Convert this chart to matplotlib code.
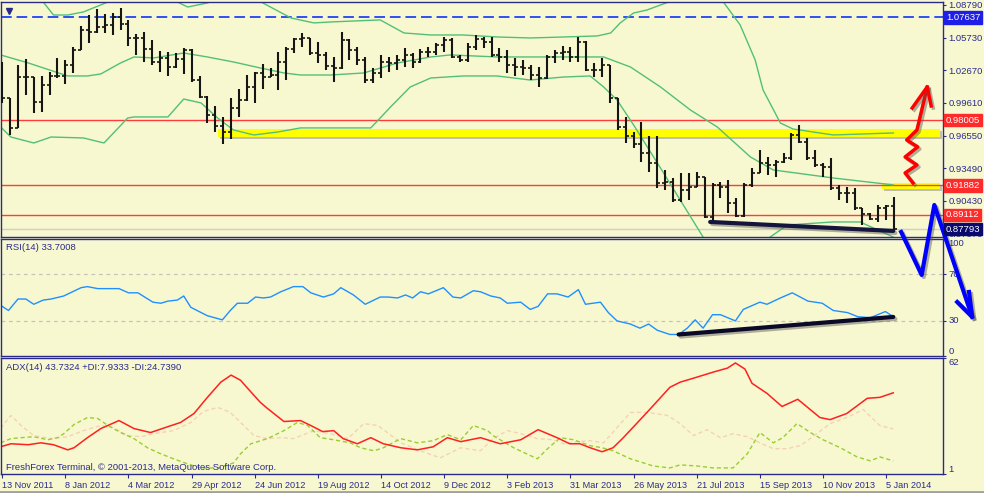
import numpy as np
import matplotlib.pyplot as plt
import matplotlib.patheffects as pe
from matplotlib.patches import Rectangle
from matplotlib.lines import Line2D

plt.rcParams['font.family'] = ['Liberation Sans', 'DejaVu Sans']

# ---- weekly bars, index 0 = week of 13 Nov 2011, last = 12 Jan 2014 ----
bar_open = [1.0150, 1.0008, 0.9727, 1.0204, 1.0204, 0.9970, 1.0130, 1.0214, 1.0214, 1.0317,
            1.0458, 1.0645, 1.0626, 1.0673, 1.0692, 1.0767, 1.0701, 1.0570, 1.0570, 1.0467,
            1.0345, 1.0383, 1.0298, 1.0373, 1.0458, 1.0176, 1.0017, 0.9848, 0.9745, 0.9689,
            0.9914, 0.9989, 1.0111, 1.0242, 1.0204, 1.0223, 1.0345, 1.0467, 1.0561, 1.0570,
            1.0429, 1.0411, 1.0308, 1.0289, 1.0551, 1.0458, 1.0364, 1.0176, 1.0242, 1.0345,
            1.0336, 1.0364, 1.0411, 1.0345, 1.0439, 1.0439, 1.0504, 1.0551, 1.0392, 1.0364,
            1.0486, 1.0561, 1.0532, 1.0411, 1.0392, 1.0317, 1.0298, 1.0289, 1.0223, 1.0195,
            1.0392, 1.0429, 1.0439, 1.0392, 1.0532, 1.0270, 1.0270, 1.0317, 1.0008, 0.9736,
            0.9652, 0.9577, 0.9492, 0.9399, 0.9211, 0.9221, 0.9052, 0.9146, 0.9174, 0.9268,
            0.8893, 0.9193, 0.9174, 0.9024, 0.8902, 0.9193, 0.9305, 0.9399, 0.9380, 0.9408,
            0.9446, 0.9661, 0.9595, 0.9446, 0.9380, 0.9361, 0.9164, 0.9118, 0.9118, 0.8977,
            0.8921, 0.8874, 0.8977, 0.8996]
bar_high = [1.0345, 1.0008, 1.0317, 1.0373, 1.0204, 1.0214, 1.0251, 1.0383, 1.0364, 1.0486,
            1.0682, 1.0785, 1.0842, 1.0795, 1.0804, 1.0851, 1.0739, 1.0607, 1.0626, 1.0551,
            1.0448, 1.0439, 1.0429, 1.0476, 1.0467, 1.0214, 1.0026, 0.9933, 0.9830, 1.0008,
            1.0092, 1.0223, 1.0251, 1.0326, 1.0289, 1.0439, 1.0486, 1.0570, 1.0617, 1.0570,
            1.0532, 1.0439, 1.0392, 1.0626, 1.0561, 1.0486, 1.0392, 1.0289, 1.0411, 1.0392,
            1.0411, 1.0476, 1.0429, 1.0467, 1.0486, 1.0523, 1.0579, 1.0570, 1.0411, 1.0523,
            1.0598, 1.0579, 1.0579, 1.0476, 1.0458, 1.0383, 1.0364, 1.0317, 1.0298, 1.0411,
            1.0458, 1.0495, 1.0486, 1.0579, 1.0540, 1.0336, 1.0383, 1.0320, 1.0008, 0.9830,
            0.9689, 0.9783, 0.9652, 0.9652, 0.9333, 0.9258, 0.9305, 0.9305, 0.9314, 0.9268,
            0.9211, 0.9221, 0.9240, 0.9071, 0.9211, 0.9352, 0.9521, 0.9455, 0.9427, 0.9492,
            0.9680, 0.9755, 0.9633, 0.9521, 0.9399, 0.9446, 0.9193, 0.9174, 0.9164, 0.8977,
            0.8930, 0.9005, 0.9005, 0.9080]
bar_low = [0.9961, 0.9661, 0.9727, 1.0036, 0.9867, 0.9877, 1.0036, 1.0195, 1.0139, 1.0242,
           1.0458, 1.0523, 1.0617, 1.0617, 1.0598, 1.0645, 1.0495, 1.0411, 1.0345, 1.0317,
           1.0251, 1.0214, 1.0289, 1.0233, 1.0158, 1.0008, 0.9773, 0.9689, 0.9577, 0.9624,
           0.9830, 0.9980, 0.9961, 1.0092, 1.0204, 1.0083, 1.0176, 1.0429, 1.0486, 1.0411,
           1.0336, 1.0270, 1.0158, 1.0280, 1.0364, 1.0317, 1.0148, 1.0148, 1.0195, 1.0251,
           1.0270, 1.0298, 1.0289, 1.0336, 1.0392, 1.0411, 1.0439, 1.0383, 1.0345, 1.0345,
           1.0458, 1.0476, 1.0392, 1.0345, 1.0242, 1.0214, 1.0223, 1.0176, 1.0111, 1.0190,
           1.0336, 1.0364, 1.0345, 1.0345, 1.0261, 1.0204, 1.0204, 0.9961, 0.9708, 0.9586,
           0.9539, 0.9408, 0.9314, 0.9164, 0.9146, 0.9033, 0.9033, 0.9052, 0.9174, 0.8883,
           0.8846, 0.9071, 0.8930, 0.8893, 0.8895, 0.9174, 0.9305, 0.9286, 0.9268, 0.9400,
           0.9427, 0.9586, 0.9427, 0.9361, 0.9268, 0.9146, 0.9052, 0.9024, 0.8958, 0.8818,
           0.8865, 0.8846, 0.8865, 0.8771]
bar_close = [1.0008, 0.9727, 1.0204, 1.0204, 0.9970, 1.0130, 1.0214, 1.0214, 1.0317, 1.0458,
             1.0645, 1.0626, 1.0673, 1.0692, 1.0767, 1.0701, 1.0570, 1.0570, 1.0467, 1.0345,
             1.0383, 1.0298, 1.0373, 1.0458, 1.0176, 1.0017, 0.9848, 0.9745, 0.9689, 0.9914,
             0.9989, 1.0111, 1.0242, 1.0204, 1.0223, 1.0345, 1.0467, 1.0561, 1.0570, 1.0429,
             1.0411, 1.0308, 1.0289, 1.0551, 1.0458, 1.0364, 1.0176, 1.0242, 1.0345, 1.0336,
             1.0364, 1.0411, 1.0345, 1.0439, 1.0439, 1.0504, 1.0551, 1.0392, 1.0364, 1.0486,
             1.0561, 1.0532, 1.0411, 1.0392, 1.0317, 1.0298, 1.0289, 1.0223, 1.0195, 1.0392,
             1.0429, 1.0439, 1.0392, 1.0532, 1.0270, 1.0270, 1.0317, 1.0008, 0.9736, 0.9652,
             0.9577, 0.9492, 0.9399, 0.9211, 0.9221, 0.9052, 0.9146, 0.9174, 0.9268, 0.8893,
             0.9193, 0.9174, 0.9024, 0.8902, 0.9193, 0.9305, 0.9399, 0.9380, 0.9408, 0.9446,
             0.9661, 0.9595, 0.9446, 0.9380, 0.9361, 0.9164, 0.9118, 0.9118, 0.8977, 0.8921,
             0.8874, 0.8977, 0.8996, 0.8779]

# Bollinger bands (bar index -> price)
bb_up_x = [-0.2, 3.6, 5.2, 6.5, 8.3, 10.3, 13.4, 17.6, 22.2, 23.5, 26.0, 29.3, 32.8, 36.6, 39.5,
           41.6, 47.9, 50.9, 54.3, 58.4, 62.8, 66.9, 71.1, 75.4, 77.1, 78.3, 80.0, 81.7, 83.4,
           85.9, 88.4, 91.0, 93.5, 95.4, 96.4, 98.6, 100.2, 105.3, 112.9]
bb_up = [1.116, 1.100, 1.0907, 1.0785, 1.0785, 1.0814, 1.0907, 1.1067, 1.0907, 1.0860, 1.0898,
         1.1001, 1.0907, 1.0757, 1.0711, 1.0720, 1.0739, 1.0617, 1.0598, 1.0598, 1.0579, 1.0570,
         1.0579, 1.0589, 1.0617, 1.0711, 1.0804, 1.0832, 1.0879, 1.0945, 1.0982, 1.0945, 1.0692,
         1.0364, 1.0083, 0.9773, 0.9717, 0.9661, 0.9680]
bb_mid_x = [-0.2, 3.3, 8.3, 10.8, 12.5, 15.0, 16.7, 19.2, 23.0, 26.0, 29.3, 32.7, 35.7, 37.8,
            41.6, 45.8, 50.1, 54.3, 56.8, 62.7, 66.9, 71.1, 76.2, 79.6, 83.4, 87.2, 90.6, 94.8,
            97.7, 105.3, 112.9]
bb_mid = [1.0411, 1.0336, 1.0214, 1.0214, 1.0233, 1.0336, 1.0392, 1.0383, 1.0429, 1.0392,
          1.0345, 1.0289, 1.0242, 1.0223, 1.0223, 1.0242, 1.0336, 1.0392, 1.0411, 1.0392,
          1.0392, 1.0392, 1.0392, 1.0298, 1.0111, 0.9895, 0.9736, 0.9455, 0.9333, 0.9258, 0.9193]
bb_low_x = [-0.2, 1.1, 4.0, 6.2, 10.3, 12.9, 15.9, 16.7, 21.0, 23.0, 25.2, 27.3, 29.3, 31.9,
            34.9, 37.8, 41.6, 46.7, 49.2, 51.7, 54.3, 58.4, 62.7, 66.9, 71.1, 74.5, 76.2, 77.9,
            80.0, 83.4, 88.8, 91.0, 94.8, 97.3, 99.5, 105.3, 108.7, 112.9]
bb_low = [0.9736, 0.9642, 0.9586, 0.9642, 0.9633, 0.9586, 0.9820, 0.9830, 0.9830, 0.9998,
          0.9961, 0.9820, 0.9708, 0.9661, 0.9689, 0.9727, 0.9727, 0.9727, 0.9923, 1.0111,
          1.0195, 1.0214, 1.0214, 1.0176, 1.0204, 1.0214, 1.0111, 0.9989, 0.9755, 0.9352,
          0.8705, 0.8490, 0.8490, 0.8705, 0.8818, 0.8846, 0.8846, 0.8705]

# RSI(14)
rsi_x = [-0.2, 0.8, 2.0, 3.0, 4.0, 5.2, 6.2, 7.8, 10.0, 10.8, 12.1, 14.8, 16.0, 17.2, 19.1, 20.1,
         21.0, 22.2, 23.0, 23.9, 26.0, 27.9, 28.9, 29.8, 31.1, 32.1, 33.1, 34.0, 35.3, 36.9,
         38.1, 39.1, 40.7, 42.0, 42.9, 44.5, 46.0, 47.9, 48.9, 50.1, 51.1, 52.0, 53.0, 54.0,
         55.9, 57.1, 58.1, 59.7, 60.6, 61.9, 63.1, 64.0, 65.7, 66.9, 67.9, 69.1, 70.3, 71.7,
         73.0, 73.9, 75.8, 76.8, 77.9, 79.6, 80.8, 81.9, 83.0, 84.6, 85.7, 86.8, 87.8, 88.8,
         90.0, 91.0, 92.9, 93.9, 96.0, 96.9, 98.6, 100.1, 102.1, 103.9, 105.3, 107.1, 108.4,
         110.0, 111.9, 112.9]
rsi_val = [43.3, 38.9, 48.7, 48.7, 44.2, 47.8, 48.7, 51.3, 58.4, 59.3, 57.6, 57.6, 54.0, 54.0,
           46.0, 45.1, 46.9, 47.8, 51.3, 41.6, 34.4, 30.9, 38.9, 45.1, 45.1, 50.4, 49.6, 50.4,
           54.9, 59.3, 59.3, 54.0, 50.4, 53.1, 58.4, 52.2, 44.2, 50.4, 50.4, 49.6, 52.2, 49.6,
           54.9, 53.1, 58.4, 50.4, 49.6, 55.8, 54.9, 51.3, 49.6, 45.1, 46.0, 39.8, 42.4, 53.1,
           53.1, 50.4, 56.7, 44.2, 46.0, 37.1, 30.0, 27.3, 23.8, 27.3, 22.0, 18.4, 18.4, 23.8,
           30.9, 23.8, 35.3, 35.3, 30.0, 39.8, 46.0, 44.2, 49.6, 54.0, 46.9, 45.1, 38.9, 37.1,
           33.6, 32.7, 38.0, 33.7]

# ADX(14) with +DI / -DI
adx_x = [-0.2, 1.1, 3.3, 4.9, 6.5, 8.3, 9.1, 10.8, 12.5, 14.8, 16.7, 18.8, 21.0, 22.6, 24.3,
         26.0, 27.7, 29.0, 30.2, 31.2, 32.7, 33.6, 35.7, 37.8, 39.1, 40.6, 42.0, 43.2, 45.0,
         46.7, 48.3, 50.5, 52.6, 54.6, 56.4, 58.1, 60.6, 63.1, 65.7, 67.9, 70.3, 71.9, 73.2,
         74.5, 76.0, 77.4, 78.7, 81.7, 84.6, 85.9, 87.6, 90.1, 91.9, 92.9, 94.1, 95.0, 96.9,
         98.8, 100.8, 103.6, 104.9, 107.0, 109.6, 111.2, 112.9]
adx_val = [15.3, 16.9, 16.4, 17.4, 16.4, 13.7, 14.8, 20.1, 24.9, 29.1, 24.9, 22.8, 25.9, 28.1,
           32.8, 41.3, 49.3, 53.0, 50.3, 45.6, 38.7, 35.5, 28.6, 29.1, 26.5, 23.3, 23.8, 19.6,
           16.9, 20.1, 16.9, 14.8, 13.7, 15.3, 20.1, 18.0, 20.1, 16.9, 19.0, 24.3, 20.1, 16.9,
           16.9, 14.8, 12.7, 14.8, 20.1, 33.4, 46.6, 49.3, 51.4, 54.6, 56.7, 59.4, 56.2, 48.7,
           43.4, 36.5, 40.3, 30.7, 29.6, 32.8, 40.8, 41.3, 43.7]
pdi_x = [-0.2, 1.1, 2.4, 4.0, 5.8, 7.0, 7.8, 9.1, 10.8, 12.1, 13.4, 15.0, 16.7, 18.4, 20.1, 21.7,
         23.5, 25.1, 27.5, 29.3, 30.2, 31.5, 33.6, 35.7, 37.4, 38.7, 40.3, 42.0, 44.1, 45.4,
         47.1, 48.3, 50.5, 52.6, 54.6, 56.4, 58.1, 59.7, 61.5, 62.2, 64.8, 67.8, 69.1, 70.7,
         72.4, 74.5, 76.0, 77.4, 79.6, 82.5, 84.6, 85.9, 88.1, 90.1, 92.6, 94.4, 96.0, 97.7,
         98.9, 100.7, 102.4, 104.0, 106.2, 108.3, 110.0, 111.2, 112.9]
pdi_val = [17.4, 19.6, 20.1, 20.6, 19.0, 20.1, 22.2, 27.0, 30.7, 30.2, 26.5, 22.8, 19.6, 14.8,
           11.6, 9.0, 6.3, 4.2, 4.2, 6.8, 11.6, 16.9, 19.6, 23.8, 28.1, 26.5, 20.1, 19.0, 17.4,
           14.8, 13.2, 14.8, 19.6, 17.4, 18.5, 21.7, 19.0, 26.5, 23.8, 21.2, 14.8, 9.0, 14.3,
           20.1, 19.0, 15.9, 14.8, 13.2, 9.0, 5.2, 4.2, 5.8, 5.2, 4.2, 4.2, 11.6, 22.8, 17.4,
           20.1, 27.5, 22.8, 19.0, 14.8, 10.0, 7.9, 10.0, 7.9]
ndi_x = [-0.2, 1.1, 2.4, 4.0, 6.2, 8.3, 10.3, 12.5, 14.1, 15.9, 17.6, 19.2, 21.7, 23.9, 25.5,
         27.3, 28.9, 30.2, 31.9, 33.6, 35.3, 36.9, 39.5, 41.6, 43.8, 45.8, 47.6, 48.8, 50.5,
         53.0, 55.5, 58.1, 60.6, 62.2, 64.0, 65.7, 67.8, 69.8, 71.1, 72.9, 74.5, 76.2, 77.9,
         79.6, 81.7, 84.3, 85.9, 87.6, 89.3, 91.0, 92.6, 94.4, 96.0, 97.7, 99.5, 101.1, 102.7,
         104.9, 107.0, 109.1, 111.2, 112.9]
ndi_val = [25.0, 31.8, 26.5, 21.2, 19.6, 20.6, 23.8, 26.5, 25.4, 21.2, 20.6, 22.2, 23.8, 28.1,
           33.9, 36.0, 33.4, 28.1, 21.2, 19.6, 20.1, 19.6, 23.8, 22.2, 19.6, 27.5, 26.5, 22.8,
           17.4, 13.2, 9.5, 14.8, 13.2, 19.6, 23.8, 22.2, 19.6, 19.0, 16.9, 18.0, 18.5, 17.4,
           25.4, 33.4, 33.4, 31.8, 27.5, 21.2, 24.3, 20.1, 22.2, 20.6, 17.4, 14.3, 14.3, 15.9,
           20.6, 27.5, 30.7, 34.9, 26.5, 24.7]

week_labels = ['13 Nov 2011', '8 Jan 2012', '4 Mar 2012', '29 Apr 2012', '24 Jun 2012',
               '19 Aug 2012', '14 Oct 2012', '9 Dec 2012', '3 Feb 2013', '31 Mar 2013',
               '26 May 2013', '21 Jul 2013', '15 Sep 2013', '10 Nov 2013', '5 Jan 2014']
price_ticks = [1.08790, 1.05730, 1.02670, 0.99610, 0.96550, 0.93490, 0.90430, 0.87370]

# levels and hand drawn markup
red_levels = [0.98005, 0.91882, 0.89112]
blue_level = 1.07637
bid_price = 0.87793
zone_x0 = [27.3, 111.5]
zone_x1 = [118.8, 118.8]
zone_lo = [0.9642, 0.9155]
zone_hi = [0.9717, 0.9211]
trend_x = [89.7, 112.9]
trend_y = [0.8846, 0.8762]
rsi_trend_x = [85.7, 112.9]
rsi_trend_y = [18.4, 33.4]
red_arrow_x = [115.4, 114.4, 115.9, 114.4, 116.0, 114.6, 115.9, 117.2]
red_arrow_y = [0.9211, 0.9305, 0.9380, 0.9455, 0.9549, 0.9614, 0.9708, 1.0111]
red_head_x = [115.3, 117.2, 117.7]
red_head_y = [0.9914, 1.0111, 0.9933]
blue_arrow_x = [113.9, 116.5, 118.1, 122.9]
blue_arrow_y = [0.8752, 0.8349, 0.9005, 0.7956]
blue_head_x = [121.0, 122.9, 122.5]
blue_head_y = [0.8096, 0.7956, 0.8190]

BG = '#F8F8D0'
NAVY = '#2A2A8C'
W, H = 984, 493


def box(top, bottom, left=1, right=943):
    return [left / W, 1 - bottom / H, (right - left) / W, (bottom - top) / H]


fig = plt.figure(figsize=(9.84, 4.93), dpi=100, facecolor=BG)
ax = fig.add_axes(box(2, 237), facecolor=BG)
ax_rsi = fig.add_axes(box(239, 356), facecolor=BG)
ax_adx = fig.add_axes(box(358, 474), facecolor=BG)
ax.set_zorder(3)  # arrows on the price panel spill over the RSI panel

for a in (ax, ax_rsi, ax_adx):
    a.set_xlim(-0.15, 119.2)
    for s in a.spines.values():
        s.set_color(NAVY)
        s.set_linewidth(1.0)
    a.yaxis.tick_right()
    a.tick_params(axis='y', direction='out', length=2.5, width=0.8, colors=NAVY,
                  labelsize=6.8, pad=1.5)
    a.tick_params(axis='x', bottom=False, labelbottom=False)

shadow = [pe.SimpleLineShadow(offset=(1.5, -1.5), shadow_color='#555555', alpha=0.45), pe.Normal()]

# ---- price panel ----
ax.set_ylim(0.8705, 1.0907)
ax.set_yticks(price_ticks, [f'{p:.5f}' for p in price_ticks])

for x0, x1, lo, hi in zip(zone_x0, zone_x1, zone_lo, zone_hi):
    ax.add_patch(Rectangle((x0, lo), x1 - x0, hi - lo, fc='#FFFF00', ec='none', zorder=1,
                           path_effects=[pe.withSimplePatchShadow(offset=(1.5, -1.5),
                                                                   shadow_rgbFace='#888888', alpha=0.5)]))

for lv in red_levels:
    ax.axhline(lv, color='#FF3B3B', lw=1.0, zorder=2)
ax.axhline(blue_level, color='#3050F0', lw=1.4, ls=(0, (5.5, 2.5)), zorder=2)
ax.axhline(bid_price, color='#CFCFC4', lw=1.0, zorder=2)

band_col = '#52BF78'
ax.plot(bb_up_x, bb_up, color=band_col, lw=1.0, zorder=2.5)
ax.plot(bb_mid_x, bb_mid, color=band_col, lw=1.0, zorder=2.5)
ax.plot(bb_low_x, bb_low, color=band_col, lw=1.0, zorder=2.5)

idx = np.arange(len(bar_close))
ax.vlines(idx, bar_low, bar_high, color='#151515', lw=1.5, zorder=4)
ax.hlines(bar_open, idx - 0.38, idx, color='#151515', lw=1.2, zorder=4)
ax.hlines(bar_close, idx, idx + 0.38, color='#151515', lw=1.2, zorder=4)

ytr = ax.get_yaxis_transform()
for val, col in [(blue_level, '#1E1EE6'), (red_levels[0], '#FF2A2A'), (red_levels[1], '#FF2A2A'),
                 (red_levels[2], '#FF2A2A'), (bid_price, '#0A0A6E')]:
    ax.text(1.003, val, f'{val:.5f}', transform=ytr, color='white', fontsize=6.8,
            va='center', ha='left', zorder=10, clip_on=False,
            bbox=dict(boxstyle='square,pad=0.2', fc=col, ec=col))

ax.plot([0.008], [0.962], marker='v', ms=4.5, color=NAVY, transform=ax.transAxes, clip_on=False)

ax.plot(trend_x, trend_y, color='#14143C', lw=3.0, solid_capstyle='round', zorder=6,
        path_effects=shadow)
ax.plot(red_arrow_x, red_arrow_y, color='#FF0000', lw=2.5, zorder=7, clip_on=False,
        solid_joinstyle='round', path_effects=shadow)
ax.plot(red_head_x, red_head_y, color='#FF0000', lw=2.5, zorder=7, clip_on=False,
        solid_joinstyle='round', path_effects=shadow)
ax.plot(blue_arrow_x, blue_arrow_y, color='#0000FF', lw=3.0, zorder=7, clip_on=False,
        solid_joinstyle='round', path_effects=shadow)
ax.plot(blue_head_x, blue_head_y, color='#0000FF', lw=3.0, zorder=7, clip_on=False,
        solid_joinstyle='round', path_effects=shadow)

# ---- RSI panel ----
ax_rsi.set_ylim(0, 100)
ax_rsi.set_yticks([100, 70, 30, 0], ['100', '70', '30', '0'])
for lv in (70, 30):
    ax_rsi.axhline(lv, color='#C4C4BC', lw=0.9, ls=(0, (3, 3)))
ax_rsi.plot(rsi_x, rsi_val, color='#1E90FF', lw=1.0)
ax_rsi.plot(rsi_trend_x, rsi_trend_y, color='#0A0A28', lw=3.0, solid_capstyle='round',
            path_effects=shadow, zorder=5)
ax_rsi.text(0.005, 0.93, 'RSI(14) 33.7008', transform=ax_rsi.transAxes, color=NAVY,
            fontsize=6.8, va='center', ha='left')

# ---- ADX panel ----
ax_adx.set_ylim(1, 62)
ax_adx.set_yticks([62, 1], ['62', '1'])
ax_adx.plot(ndi_x, ndi_val, color='#F6D2B4', lw=1.0, ls=(0, (3, 2)))
ax_adx.plot(pdi_x, pdi_val, color='#9ACD32', lw=1.0, ls=(0, (3, 2)))
ax_adx.plot(adx_x, adx_val, color='#FF2020', lw=1.1)
ax_adx.text(0.005, 0.922, 'ADX(14) 43.7324 +DI:7.9333 -DI:24.7390', transform=ax_adx.transAxes,
            color=NAVY, fontsize=6.8, va='center', ha='left')
ax_adx.text(0.005, 0.06, 'FreshForex Terminal, \u00a9 2001-2013, MetaQuotes Software Corp.',
            transform=ax_adx.transAxes, color=NAVY, fontsize=6.8, va='center', ha='left')

ax_adx.set_xticks(range(0, 8 * len(week_labels), 8), week_labels)
ax_adx.tick_params(axis='x', bottom=True, labelbottom=True, direction='out', length=3,
                   width=0.8, colors=NAVY, labelsize=6.6, pad=2)
for lab in ax_adx.get_xticklabels():
    lab.set_ha('left')

for a, vas in ((ax_rsi, ['top', 'center', 'center', 'bottom']), (ax_adx, ['top', 'bottom'])):
    for t, va in zip(a.yaxis.get_major_ticks(), vas):
        t.label2.set_va(va)

fig.add_artist(Line2D([0, 1], [0.003, 0.003], transform=fig.transFigure, color='#A0A0A0', lw=2))

fig.savefig('out.png', dpi=100, facecolor=BG)
